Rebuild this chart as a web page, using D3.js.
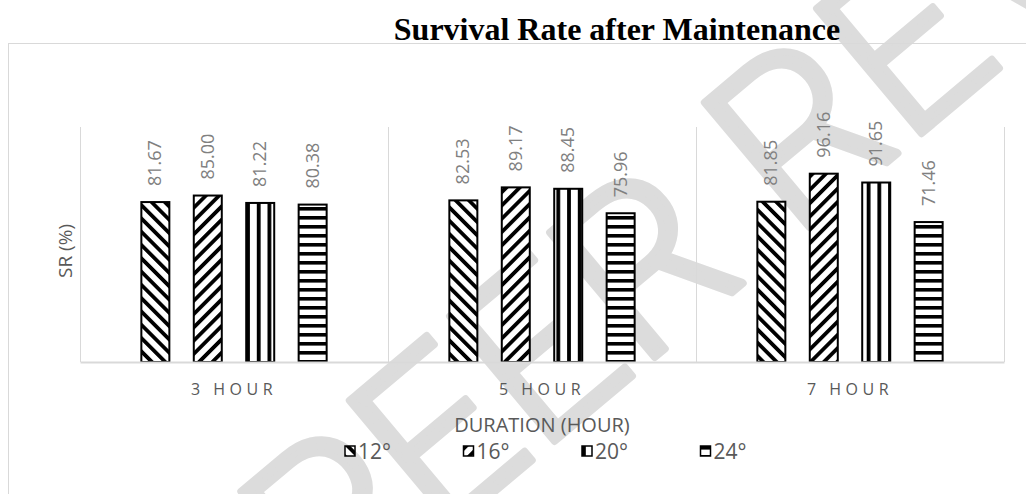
<!DOCTYPE html>
<html>
<head>
<meta charset="utf-8">
<script src="https://cdn.jsdelivr.net/npm/d3@7"></script>
<style>
    html, body { margin: 0; padding: 0; background: #fff; }
    svg { display: block; }
</style>
</head>
<body>
<div id="chart"></div>
<script>
const categories = ["3 HOUR", "5 HOUR", "7 HOUR"];
const series = ["12°", "16°", "20°", "24°"];
const values = {
    "12°": [81.67, 82.53, 81.85],
    "16°": [85.0, 89.17, 96.16],
    "20°": [81.22, 88.45, 91.65],
    "24°": [80.38, 75.96, 71.46],
};
const yDomain = [0, 120];

const W = 1026, H = 494;
const plot = { left: 80, right: 1004, top: 127, bottom: 362 };
const gridColor = "#d9d9d9";
const font = "'Open Sans', 'Liberation Sans', sans-serif";

const svg = d3.select("#chart")
    .append("svg")
    .attr("width", W)
    .attr("height", H);

// hatch patterns, one per series
const defs = svg.append("defs");
function stripePattern(id, period, thick, angle) {
    var p = defs.append("pattern")
        .attr("id", id)
        .attr("patternUnits", "userSpaceOnUse")
        .attr("width", period)
        .attr("height", period)
        .attr("patternTransform", "rotate(" + angle + ")");
    p.append("rect").attr("width", period).attr("height", period).attr("fill", "#fff");
    p.append("rect").attr("width", thick).attr("height", period).attr("fill", "#000");
}
stripePattern("p12", 9.4, 3.8, -45);
stripePattern("p16", 9.4, 3.8, 45);
stripePattern("p20", 10.7, 3.8, 0);
stripePattern("p24", 9, 3.6, 90);
const patternId = { "12°": "p12", "16°": "p16", "20°": "p20", "24°": "p24" };

// watermark behind everything
svg.append("text")
    .attr("transform", "translate(330,630) rotate(-40)")
    .attr("font-family", "Roboto, 'DejaVu Sans', sans-serif")
    .attr("font-weight", 300)
    .attr("font-size", 230)
    .attr("fill", "#dcdcdc")
    .attr("stroke", "#dcdcdc")
    .attr("stroke-width", 7)
    .attr("stroke-linejoin", "round")
    .attr("stroke-linecap", "round")
    .text("PEER REVIEW");

// title
svg.append("text")
    .attr("x", 617)
    .attr("y", 40)
    .attr("text-anchor", "middle")
    .attr("font-family", "'Liberation Serif', 'Times New Roman', serif")
    .attr("font-weight", "bold")
    .attr("font-size", 32)
    .attr("fill", "#000")
    .text("Survival Rate after Maintenance");

// chart frame (runs off the bottom and right of the picture)
svg.append("rect")
    .attr("x", 8.5)
    .attr("y", 43.5)
    .attr("width", 1040)
    .attr("height", 480)
    .attr("fill", "none")
    .attr("stroke", gridColor);

const x0 = d3.scaleBand()
    .domain(categories)
    .range([plot.left, plot.right]);

const x1 = d3.scaleBand()
    .domain(series)
    .range([0, x0.bandwidth()])
    .paddingInner(0.466)
    .paddingOuter(1.17);

const y = d3.scaleLinear()
    .domain(yDomain)
    .range([plot.bottom, plot.top]);

// category divider lines
const g = svg.append("g");
g.selectAll("line.div")
    .data(categories)
    .join("line")
    .attr("class", "div")
    .attr("x1", d => x0(d) + x0.bandwidth() + 0.5)
    .attr("x2", d => x0(d) + x0.bandwidth() + 0.5)
    .attr("y1", plot.top)
    .attr("y2", plot.bottom)
    .attr("stroke", gridColor);

// left axis line
g.append("line")
    .attr("x1", plot.left + 0.5)
    .attr("x2", plot.left + 0.5)
    .attr("y1", plot.top)
    .attr("y2", plot.bottom)
    .attr("stroke", gridColor);

// bars
const rows = [];
categories.forEach((c, i) => {
    series.forEach(s => rows.push({ cat: c, s: s, v: values[s][i] }));
});

g.selectAll("rect.bar")
    .data(rows)
    .join("rect")
    .attr("class", "bar")
    .attr("x", d => x0(d.cat) + x1(d.s))
    .attr("y", d => y(d.v))
    .attr("width", x1.bandwidth())
    .attr("height", d => y(0) - y(d.v))
    .attr("fill", d => "url(#" + patternId[d.s] + ")")
    .attr("stroke", "#000")
    .attr("stroke-width", 2);

// horizontal axis
const xAxis = g.append("g")
    .attr("transform", "translate(0," + plot.bottom + ")")
    .call(d3.axisBottom(x0).tickSize(0).tickPadding(22));
xAxis.select(".domain").attr("stroke", gridColor).attr("stroke-width", 2);
xAxis.selectAll("text")
    .attr("font-family", font)
    .attr("font-size", 16)
    .attr("letter-spacing", "4.5px")
    .attr("fill", "#595959");

// value labels, rotated
g.selectAll("text.val")
    .data(rows)
    .join("text")
    .attr("class", "val")
    .attr("transform", d => {
        var cx = x0(d.cat) + x1(d.s) + x1.bandwidth() / 2;
        return "translate(" + (cx + 6) + "," + (y(d.v) - 16) + ") rotate(-90)";
    })
    .attr("font-family", font)
    .attr("font-size", 18)
    .attr("fill", "#808080")
    .text(d => d.v.toFixed(2));

// axis titles
svg.append("text")
    .attr("transform", "translate(72,251) rotate(-90)")
    .attr("text-anchor", "middle")
    .attr("font-family", font)
    .attr("font-size", 19)
    .attr("fill", "#595959")
    .text("SR (%)");

svg.append("text")
    .attr("x", (plot.left + plot.right) / 2)
    .attr("y", 432)
    .attr("text-anchor", "middle")
    .attr("font-family", font)
    .attr("font-size", 20)
    .attr("fill", "#595959")
    .text("DURATION (HOUR)");

// legend
const legend = svg.append("g")
    .selectAll("g")
    .data(series)
    .join("g")
    .attr("transform", (d, i) => "translate(" + (345 + i * 118.5) + ",446)");
legend.append("rect")
    .attr("width", 10)
    .attr("height", 10)
    .attr("fill", d => "url(#" + patternId[d] + ")")
    .attr("stroke", "#000")
    .attr("stroke-width", 1.5);
legend.append("text")
    .attr("x", 13)
    .attr("y", 13)
    .attr("font-family", font)
    .attr("font-size", 21)
    .attr("fill", "#595959")
    .text(d => d);
</script>
</body>
</html>
